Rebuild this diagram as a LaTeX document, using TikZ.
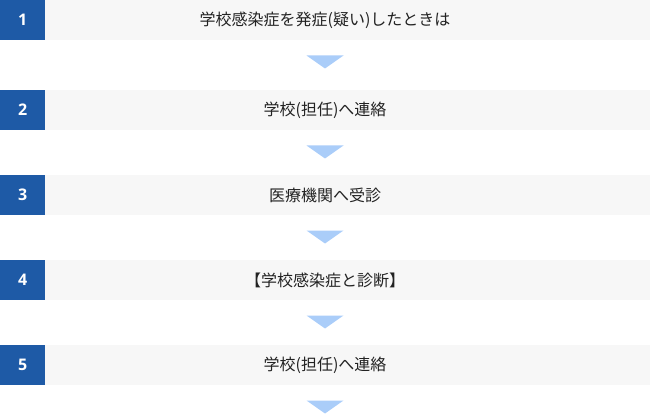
\documentclass[tikz,border=0pt]{standalone}
\usepackage{fontspec}
\usetikzlibrary{calc}
\setmainfont{Noto Sans CJK JP}
\newfontfamily\numfont{Open Sans}
\definecolor{numblue}{HTML}{1E5AA6}
\definecolor{rowgrey}{HTML}{F7F7F7}
\definecolor{arrowblue}{HTML}{AACDF9}
\definecolor{txt}{HTML}{222222}
\begin{document}
\begin{tikzpicture}[x=1pt,y=-1pt,
  numbox/.style={fill=numblue,draw=none,minimum width=45pt,minimum height=40pt,inner sep=0pt,
    text=white,font=\numfont\bfseries\fontsize{16}{16}\selectfont,anchor=north west},
  rowbox/.style={fill=rowgrey,draw=none,minimum width=605pt,minimum height=40pt,inner sep=0pt,anchor=north west},
  rowtext/.style={text=txt,font=\fontsize{16}{18}\selectfont,inner sep=0pt},
  downtri/.style={fill=arrowblue,draw=none}]
\useasboundingbox (0,0) rectangle (650,414);
\foreach \i/\y/\t in {1/0/学校感染症を発症(疑い)したときは,2/90/学校(担任)へ連絡,3/175/医療機関へ受診,4/260/【学校感染症と診断】,5/345/学校(担任)へ連絡}{
  \node[rowbox] (r\i) at (45,\y) {};
  \node[numbox] (n\i) at (0,\y) {\i};
  \node[rowtext] (t\i) at (325,\y+20) {\t};
  \coordinate (a\i) at (325,\y+55.5);
  \fill[downtri] ($(a\i)+(-18.5,0)$) -- ($(a\i)+(18.5,0)$) -- ($(a\i)+(0,13)$) -- cycle;
}
\end{tikzpicture}
\end{document}
